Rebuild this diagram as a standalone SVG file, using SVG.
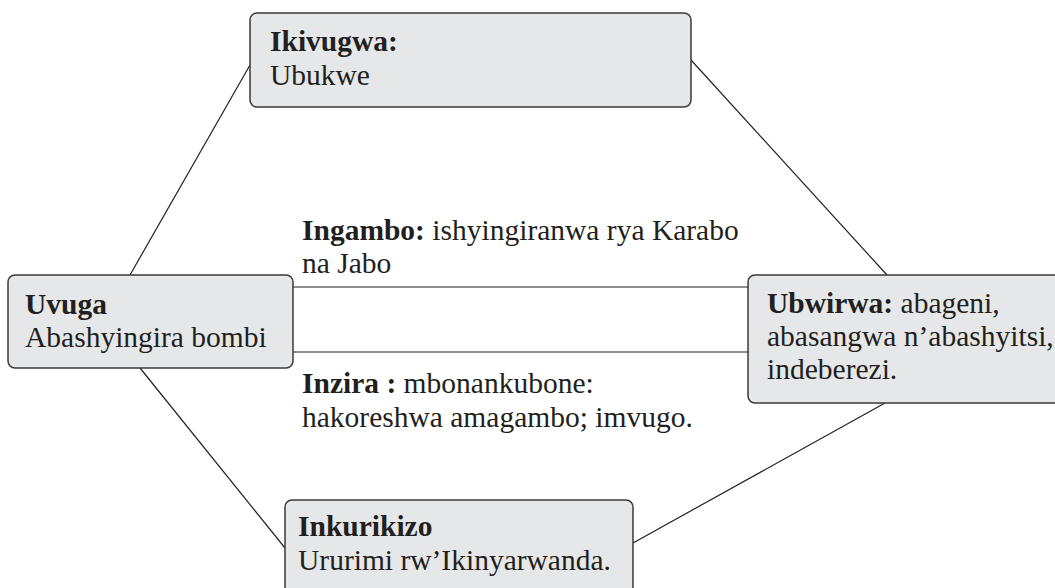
<svg xmlns="http://www.w3.org/2000/svg" width="1055" height="588" viewBox="0 0 1055 588">
<style>
.box{fill:#e6e7e8;stroke:#3a3a3a;stroke-width:1.5}
.ln{stroke:#231f20;stroke-width:1.2;fill:none}
text{font-family:"Liberation Serif","DejaVu Serif",serif;font-size:29.5px;fill:#231f20}
.b{font-weight:bold}
</style>
<rect width="1055" height="588" fill="#ffffff"/>
<g id="connectors">
<line class="ln" x1="130" y1="275" x2="250" y2="65"/>
<line class="ln" x1="691" y1="60" x2="887" y2="275"/>
<line class="ln" x1="140" y1="368" x2="285" y2="548"/>
<line class="ln" x1="633" y1="543" x2="885" y2="403"/>
<line class="ln" x1="293" y1="287" x2="748" y2="287"/>
<line class="ln" x1="293" y1="352" x2="748" y2="352"/>
<text x="302" y="240"><tspan class="b">Ingambo:</tspan> ishyingiranwa rya Karabo</text>
<text x="302" y="273">na Jabo</text>
<text x="302" y="393"><tspan class="b">Inzira :</tspan> mbonankubone:</text>
<text x="302" y="427">hakoreshwa amagambo; imvugo.</text>
</g>
<g id="ikivugwa">
<rect class="box" x="250" y="13" width="441" height="94" rx="7"/>
<text x="270" y="51" class="b">Ikivugwa:</text>
<text x="270" y="85">Ubukwe</text>
</g>
<g id="uvuga">
<rect class="box" x="8" y="275" width="285" height="93" rx="7"/>
<text x="25" y="314" class="b">Uvuga</text>
<text x="25" y="347">Abashyingira bombi</text>
</g>
<g id="ubwirwa">
<rect class="box" x="748" y="275" width="320" height="128" rx="7"/>
<text x="767" y="313"><tspan class="b">Ubwirwa:</tspan> abageni,</text>
<text x="767" y="346">abasangwa n’abashyitsi,</text>
<text x="767" y="379">indeberezi.</text>
</g>
<g id="inkurikizo">
<rect class="box" x="285" y="500" width="348" height="100" rx="7"/>
<text x="298" y="536" class="b">Inkurikizo</text>
<text x="298" y="570">Ururimi rw’Ikinyarwanda.</text>
</g>
</svg>
